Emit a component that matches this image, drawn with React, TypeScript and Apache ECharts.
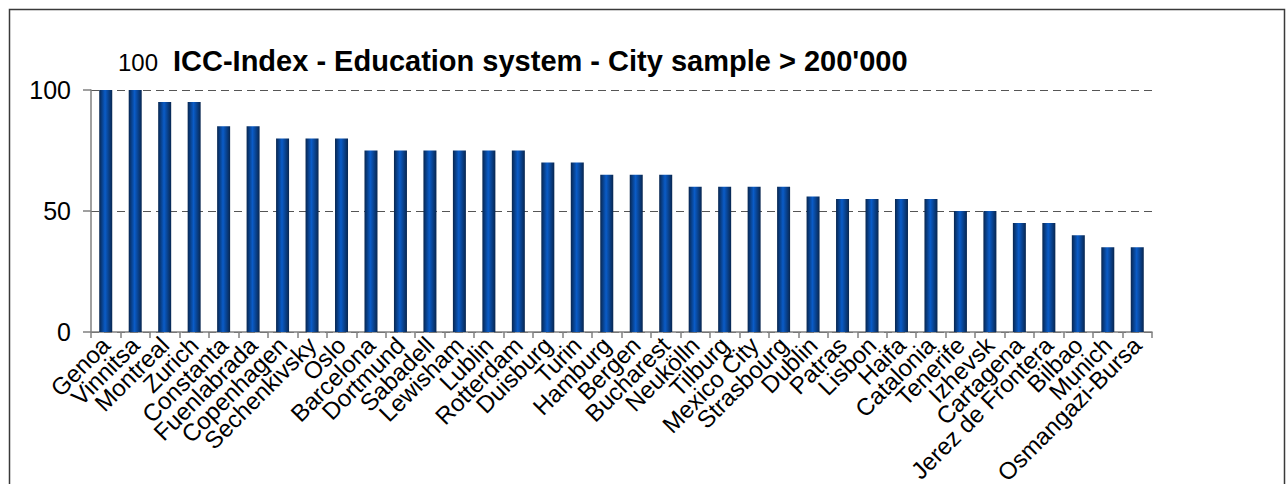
import React, { useEffect, useRef } from "react";
import * as echarts from "echarts";

const cities = [
  "Genoa", "Vinnitsa", "Montreal", "Zurich", "Constanta", "Fuenlabrada", "Copenhagen",
  "Sechenkivsky", "Oslo", "Barcelona", "Dortmund", "Sabadell", "Lewisham", "Lublin",
  "Rotterdam", "Duisburg", "Turin", "Hamburg", "Bergen", "Bucharest", "Neukölln",
  "Tilburg", "Mexico City", "Strasbourg", "Dublin", "Patras", "Lisbon", "Haifa",
  "Catalonia", "Tenerife", "Izhevsk", "Cartagena", "Jerez de Frontera", "Bilbao",
  "Munich", "Osmangazi-Bursa",
];

const educationIndex = [
  100, 100, 95, 95, 85, 85, 80, 80, 80, 75, 75, 75, 75, 75, 75, 70, 70, 65, 65, 65,
  60, 60, 60, 60, 56, 55, 55, 55, 55, 50, 50, 45, 45, 40, 35, 35,
];

const yTicks = { min: 0, max: 100, interval: 50 };

const titleNumber = "100";
const titleText = "ICC-Index - Education system - City sample > 200'000";

const FONT = "'Liberation Sans', Arial, sans-serif";

export default function App() {
  const ref = useRef<HTMLDivElement>(null);

  useEffect(() => {
    if (!ref.current) return;
    const chart = echarts.init(ref.current, null, { renderer: "svg" });
    const barColor = new echarts.graphic.LinearGradient(0, 0, 1, 0, [
      { offset: 0, color: "#08264f" },
      { offset: 0.45, color: "#0a5cc8" },
      { offset: 1, color: "#08264f" },
    ]);
    chart.setOption({
      animation: false,
      backgroundColor: "#ffffff",
      textStyle: { fontFamily: FONT },
      title: [
        {
          text: titleNumber,
          left: 113,
          top: 45,
          textStyle: { fontFamily: FONT, fontSize: 24, fontWeight: "normal", color: "#000" },
        },
        {
          text: titleText,
          left: 168,
          top: 41,
          textStyle: { fontFamily: FONT, fontSize: 29, fontWeight: "bold", color: "#000" },
        },
      ],
      graphic: [
        {
          type: "rect",
          shape: { x: 9.5, y: 9.5, width: 1275, height: 490 },
          style: { fill: "none", stroke: "#3a3a3a", lineWidth: 1.5 },
          silent: true,
        },
      ],
      grid: {
        left: 91,
        right: 134,
        top: 90,
        bottom: 152,
        containLabel: false,
        outerBoundsMode: "none",
      },
      xAxis: {
        type: "category",
        data: cities,
        boundaryGap: true,
        axisLine: { show: true, lineStyle: { color: "#808080", width: 1.5 } },
        axisTick: { show: true, alignWithLabel: false, length: 6, lineStyle: { color: "#808080", width: 1.5 } },
        axisLabel: {
          interval: 0,
          rotate: 45,
          margin: 9,
          fontSize: 24,
          fontFamily: FONT,
          color: "#000",
        },
        splitLine: { show: false },
      },
      yAxis: {
        type: "value",
        min: yTicks.min,
        max: yTicks.max,
        interval: yTicks.interval,
        axisLine: { show: true, lineStyle: { color: "#808080", width: 1.5 } },
        axisTick: { show: true, length: 8, lineStyle: { color: "#808080", width: 1.5 } },
        axisLabel: { fontSize: 25, fontFamily: FONT, color: "#000", margin: 20 },
        splitLine: {
          show: true,
          lineStyle: { color: "#555", width: 1.2, type: [8, 5] },
        },
      },
      series: [
        {
          type: "bar",
          data: educationIndex,
          barWidth: 13,
          itemStyle: { color: barColor },
        },
      ],
    });
    return () => chart.dispose();
  }, []);

  return (
    <div
      ref={ref}
      style={{ position: "absolute", left: 0, top: 0, width: 1286, height: 484 }}
    />
  );
}
